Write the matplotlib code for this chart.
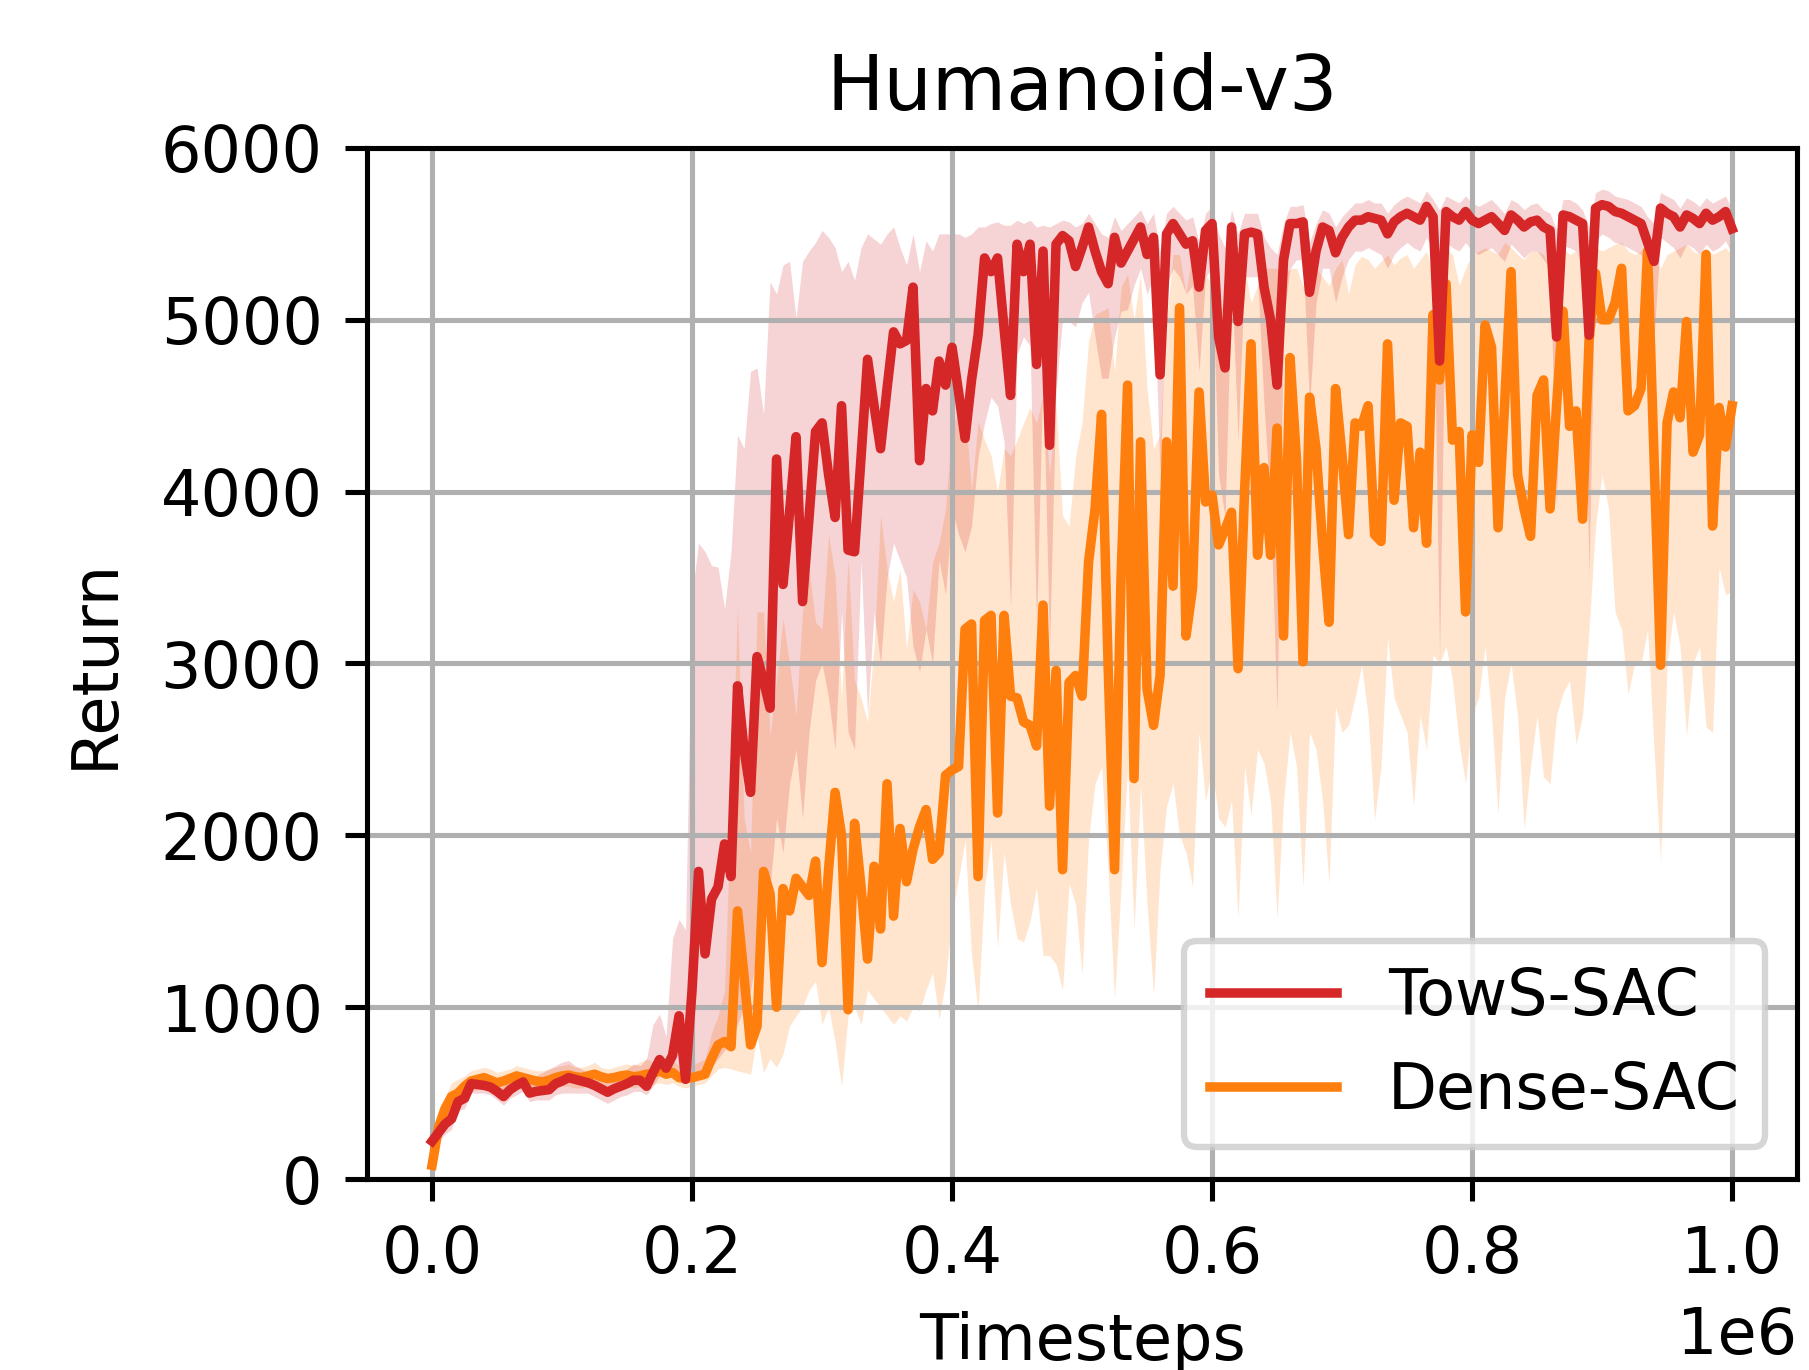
import numpy as np
import matplotlib
matplotlib.use("Agg")
import matplotlib.pyplot as plt

# evaluation every 5000 steps, 0 .. 1e6
steps = np.arange(201) * 5000

# TowS-SAC: mean return and band (lower / upper)
tows_mean = [
    220, 270, 320, 350, 450, 470, 555, 550, 545, 535,
    510, 480, 520, 545, 565, 500, 510, 515, 520, 555,
    570, 590, 580, 570, 560, 545, 525, 505, 525, 540,
    555, 575, 575, 540, 620, 695, 645, 720, 950, 580,
    1100, 1790, 1310, 1630, 1700, 1950, 1760, 2870, 2500, 2250,
    3040, 2900, 2740, 4190, 3460, 3880, 4320, 3360, 3850, 4350,
    4400, 4100, 3850, 4500, 3660, 3650, 4200, 4770, 4500, 4250,
    4600, 4930, 4860, 4880, 5190, 4180, 4600, 4470, 4760, 4620,
    4840, 4580, 4310, 4650, 4910, 5360, 5280, 5360, 4950, 4560,
    5440, 5280, 5440, 4740, 5400, 4270, 5440, 5490, 5460, 5310,
    5420, 5540, 5400, 5280, 5210, 5480, 5330, 5400, 5470, 5540,
    5380, 5480, 4680, 5500, 5560, 5500, 5440, 5460, 5190, 5520,
    5560, 4900, 4720, 5540, 4990, 5500, 5510, 5500, 5190, 5000,
    4620, 5350, 5560, 5560, 5570, 5160, 5400, 5540, 5520, 5390,
    5480, 5540, 5580, 5580, 5600, 5590, 5580, 5500, 5570, 5600,
    5620, 5600, 5580, 5660, 5600, 4760, 5630, 5600, 5580, 5630,
    5580, 5560, 5580, 5600, 5560, 5520, 5610, 5580, 5540, 5570,
    5580, 5540, 5520, 4900, 5610, 5600, 5580, 5560, 4910, 5650,
    5670, 5660, 5630, 5620, 5600, 5580, 5560, 5450, 5340, 5650,
    5620, 5600, 5540, 5610, 5590, 5560, 5620, 5580, 5600, 5630,
    5530,
]
tows_hi = [
    260, 320, 380, 420, 500, 540, 600, 600, 590, 580,
    570, 540, 570, 600, 620, 580, 600, 620, 640, 660,
    680, 690, 660, 640, 620, 610, 600, 590, 600, 620,
    640, 670, 660, 700, 900, 960, 830, 1400, 1510, 1450,
    3400, 3700, 3650, 3570, 3560, 3320, 3650, 4330, 4250, 4700,
    4720, 4450, 5220, 5150, 5320, 5340, 5010, 5340, 5400, 5450,
    5520, 5480, 5420, 5280, 5340, 5230, 5420, 5500, 5470, 5440,
    5500, 5540, 5420, 5320, 5500, 5280, 5460, 5400, 5500, 5500,
    5500, 5500, 5480, 5500, 5540, 5540, 5560, 5570, 5550, 5550,
    5580, 5560, 5580, 5540, 5550, 5540, 5560, 5580, 5570, 5540,
    5560, 5620, 5560, 5500, 5480, 5600, 5520, 5560, 5600, 5640,
    5560, 5620, 5400, 5620, 5660, 5620, 5580, 5600, 5450, 5620,
    5660, 5500, 5420, 5640, 5500, 5620, 5620, 5620, 5480, 5420,
    5380, 5560, 5660, 5660, 5670, 5450, 5560, 5640, 5620, 5540,
    5600, 5640, 5680, 5680, 5700, 5680, 5680, 5620, 5670, 5700,
    5720, 5700, 5680, 5750, 5700, 5640, 5720, 5700, 5680, 5720,
    5680, 5660, 5680, 5700, 5660, 5620, 5700, 5680, 5640, 5670,
    5680, 5640, 5620, 5520, 5700, 5700, 5680, 5640, 5540, 5740,
    5760, 5750, 5720, 5710, 5700, 5680, 5660, 5600, 5560, 5740,
    5720, 5700, 5650, 5710, 5690, 5660, 5710, 5680, 5700, 5720,
    5640,
]
tows_lo = [
    180, 220, 260, 290, 400, 410, 500, 500, 500, 490,
    460, 430, 470, 490, 510, 450, 460, 460, 460, 490,
    500, 500, 500, 500, 500, 480, 460, 440, 460, 480,
    490, 510, 510, 490, 540, 600, 590, 600, 590, 560,
    580, 600, 620, 650, 700, 750, 800, 900, 1000, 1100,
    1300, 1500, 1700, 2100, 1900, 2300, 2500, 2100, 2600, 2900,
    3000, 2800, 2500, 3300, 2600, 2500, 3600, 2700, 3300, 3000,
    3500, 3700, 3600, 3500, 3100, 2950, 3200, 3000, 3600, 3400,
    3900, 3750, 3650, 3800, 4200, 4400, 4550, 4500, 4290, 3320,
    4800, 4900, 4850, 3220, 4700, 3090, 4590, 5000, 4990, 4960,
    5100, 5160, 4900, 4660, 4660, 4900, 5050, 5060, 5200, 5300,
    5150, 5250, 4100, 5200, 5300, 5250, 5150, 5200, 4700, 5250,
    5300, 4100, 3850, 5250, 4300, 5250, 5250, 5250, 4500, 3900,
    2720, 5000, 5300, 5350, 5350, 4500, 5100, 5300, 5300, 5100,
    5250, 5350, 5400, 5400, 5420, 5400, 5380, 5300, 5380, 5420,
    5450, 5420, 5400, 5480, 5400, 3040, 5450, 5420, 5400, 5450,
    5400, 5380, 5400, 5420, 5380, 5340, 5440, 5400, 5360, 5400,
    5400, 5350, 5300, 3920, 5430, 5420, 5400, 5300, 3520, 5460,
    5500, 5480, 5450, 5440, 5420, 5400, 5380, 5200, 4900, 5480,
    5450, 5420, 5360, 5440, 5420, 5380, 5440, 5400, 5420, 5460,
    5380,
]

# Dense-SAC
dense_mean = [
    80, 300, 410, 480, 500, 540, 570, 580, 590, 575,
    560, 570, 585, 600, 590, 580, 570, 565, 575, 590,
    600, 605, 595, 590, 600, 610, 595, 585, 590, 600,
    605, 595, 600, 610, 615, 630, 610, 620, 590, 585,
    590, 600, 610, 700, 780, 800, 770, 1560, 1180, 780,
    890, 1790, 1660, 1000, 1690, 1560, 1750, 1700, 1650, 1850,
    1260, 1800, 2250, 2000, 985, 2070, 1700, 1280, 1820, 1455,
    2300, 1530, 2040, 1730, 1920, 2050, 2150, 1860, 1900, 2350,
    2380, 2400, 3200, 3230, 1760, 3250, 3280, 2130, 3280, 2810,
    2800, 2660, 2640, 2520, 3340, 2170, 2960, 1800, 2890, 2930,
    2810, 3590, 3900, 4450, 3000, 1800, 3500, 4620, 2330, 4290,
    2850, 2640, 2930, 4290, 3450, 5070, 3160, 3440, 4580, 3940,
    3980, 3690, 3780, 3880, 2970, 4000, 4860, 3630, 4140, 3630,
    4370, 3160, 4780, 4180, 3010, 4550, 4250, 3700, 3240, 4600,
    4210, 3750, 4400, 4380, 4500, 3750, 3710, 4860, 3950, 4400,
    4380, 3790, 4230, 3700, 5030, 4650, 5210, 4300, 4350, 3300,
    4330, 4170, 4970, 4840, 3790, 4500, 5280, 4100, 3900, 3740,
    4560, 4650, 3900, 4500, 5050, 4380, 4470, 3840, 4880, 5270,
    5000, 5000, 5100, 5300, 4470, 4500, 4600, 5400, 4200, 2990,
    4400, 4580, 4430, 4990, 4230, 4330, 5380, 3800, 4490, 4260,
    4500,
]
dense_hi = [
    120, 360, 480, 560, 580, 600, 630, 640, 650, 640,
    620, 630, 640, 660, 650, 640, 630, 630, 640, 650,
    660, 670, 650, 650, 660, 680, 650, 640, 650, 660,
    670, 660, 680, 700, 680, 720, 680, 690, 660, 650,
    660, 680, 700, 850, 950, 1100, 2200, 3320, 2100, 1900,
    3300, 3300, 2580, 2900, 3260, 3000, 2700, 3300, 3550, 3240,
    3200, 3750, 3510, 2800, 3610, 2900, 2800, 2660, 3100, 3860,
    3550, 3360, 3550, 3085, 3430, 3360, 3200, 3590, 3700, 3900,
    4390, 4450, 4490, 4000, 4410, 4300, 4210, 4000, 4250, 4210,
    4300, 4400, 4490, 4400, 4560, 4100, 4500, 3860, 3800, 4200,
    4400, 4875, 5030, 5050, 5070, 4700, 5190, 5265, 5000, 5265,
    4600, 4250, 4330, 5000, 5380, 5380, 5150, 5420, 5300, 5265,
    5200, 5000, 5150, 5150, 5000, 5300, 5100, 5200, 5300, 5300,
    5300, 5250, 5300, 5300, 5200, 5300, 5300, 5250, 5200, 5300,
    5350, 5150, 5320, 5370, 5350, 5300, 5340, 5380, 5320, 5360,
    5380, 5300, 5350, 5400, 5250, 5380, 5420, 5380, 5200, 5300,
    5380, 5400, 5420, 5400, 5380, 5450, 5420, 5380, 5350, 5400,
    5400, 5380, 5300, 5400, 5420, 5380, 5400, 5300, 5380, 5420,
    5400, 5420, 5440, 5450, 5400, 5380, 5400, 5450, 5380, 5300,
    5380, 5400, 5420, 5440, 5400, 5380, 5420, 5380, 5400, 5420,
    5380,
]
dense_lo = [
    40, 220, 330, 400, 430, 480, 510, 520, 530, 510,
    500, 510, 520, 540, 530, 520, 510, 500, 510, 530,
    540, 540, 530, 530, 540, 550, 530, 520, 530, 540,
    540, 530, 540, 550, 550, 560, 550, 560, 540, 530,
    540, 550, 560, 600, 640, 650, 640, 630, 620, 610,
    830, 620, 700, 650, 730, 890, 950, 1000, 1100, 1150,
    900, 1000, 800, 540, 950, 1000, 900, 1100, 1050, 1000,
    950, 900, 950, 920, 1000, 980, 1100, 1200, 930, 1150,
    1540, 1750, 1970, 1300, 980, 1700, 1970, 1350, 1900, 1600,
    1400, 1380, 1500, 1700, 1300, 1300, 1250, 1100, 1720, 1600,
    1190, 1980, 2300, 2400, 1800, 1050, 1700, 2400, 1450, 2300,
    1600, 1070, 1800, 2170, 2300, 2000, 1900, 1700, 2600, 2200,
    2400, 2100, 2050, 2200, 1520, 2400, 2120, 2500, 2420, 2200,
    1520, 2200, 2600, 2400, 1700, 2600, 2500, 2200, 1720, 2750,
    2600, 2640, 2800, 2990, 2700, 2090, 2400, 3150, 2800, 2700,
    2600, 2170, 2700, 2500, 3050, 3000, 3100, 2900, 2540, 2300,
    2700, 2800, 3100, 2700, 2120, 2800, 3000, 2700, 2040, 2400,
    2700, 2340, 2300, 2700, 2830, 2900, 2530, 2700, 3200, 3800,
    4100, 3900, 3300, 3200, 2820, 3000, 3000, 3200, 2500, 1850,
    3000, 3300, 3100, 2580, 3000, 3100, 2630, 2600, 3560, 3400,
    3420,
]

tows_col = '#d62728'
dense_col = '#ff7f0e'

# small default-styled figure saved at high dpi
DPI = 458
fig = plt.figure(figsize=(1809 / DPI, 1370 / DPI), dpi=DPI)
ax = fig.add_axes([0.2029, 0.1394, 0.7905, 0.7526])

# dense first so TowS sits on top
ax.plot(steps, dense_mean, color=dense_col, label='Dense-SAC')
ax.fill_between(steps, dense_lo, dense_hi, color=dense_col, alpha=0.2, lw=0)
ax.plot(steps, tows_mean, color=tows_col, label='TowS-SAC')
ax.fill_between(steps, tows_lo, tows_hi, color=tows_col, alpha=0.2, lw=0)

ax.set_ylim(0, 6000)
ax.grid(True)
ax.set_title('Humanoid-v3')
ax.set_xlabel('Timesteps')
ax.set_ylabel('Return', labelpad=5.5)

handles, labels = ax.get_legend_handles_labels()
ax.legend(handles[::-1], labels[::-1], loc='lower right')

fig.savefig('out.png', dpi=DPI)
